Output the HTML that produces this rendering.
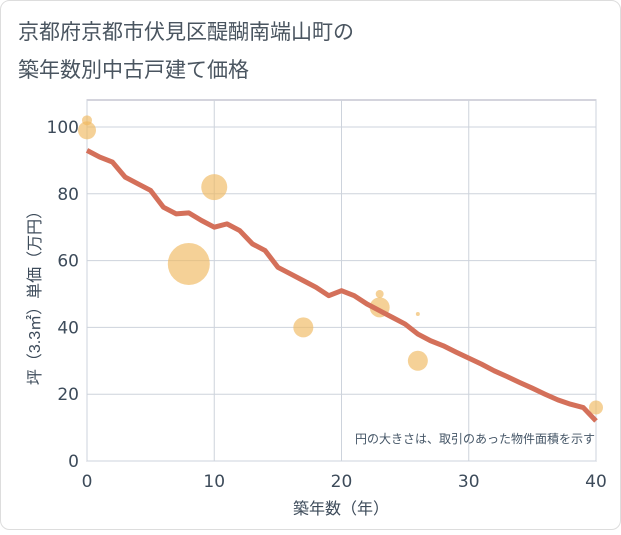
<!DOCTYPE html>
<html><head><meta charset="utf-8"><style>
body{margin:0;background:#fff;}
#wrap{width:621px;height:530px;position:relative;font-family:"Liberation Sans","Noto Sans CJK JP",sans-serif;}
</style></head><body>
<div id="wrap">
<svg id="chart" width="621" height="530" xmlns="http://www.w3.org/2000/svg">
<rect x="0.5" y="0.5" width="620" height="529" rx="9" fill="#fff" stroke="#ddd"/>
<text x="18" y="39" font-size="21" fill="#4a5560">京都府京都市伏見区醍醐南端山町の</text>
<text x="18" y="77" font-size="21" fill="#4a5560">築年数別中古戸建て価格</text>
<g id="grid"></g><g id="marks"></g>
<text x="595" y="443" font-size="12" fill="#445566" text-anchor="end">円の大きさは、取引のあった物件面積を示す</text>
<text x="341" y="514" font-size="16" fill="#3d4b5a" text-anchor="middle">築年数（年）</text>
<text transform="translate(40,294) rotate(-90)" font-size="16" fill="#3d4b5a" text-anchor="middle">坪（3.3㎡）単価（万円）</text>
</svg></div>
<script>
const xTicks=[0,10,20,30,40];
const yTicks=[0,20,40,60,80,100];
const lineX=[0,1,2,3,4,5,6,7,8,9,10,11,12,13,14,15,16,17,18,19,20,21,22,23,24,25,26,27,28,29,30,31,32,33,34,35,36,37,38,39,40];
const lineY=[93,91,89.5,85,83,81,76,74,74.3,72,70,71,69,65,63,58,56,54,52,49.5,51,49.5,47,45,43,41,38,36,34.5,32.6,30.8,29,27,25.3,23.5,21.8,20,18.3,17,16,12];
const bubX=[0,0,10,8,17,23,23,26,26,40];
const bubY=[102,99,82,59,40,50,46,44,30,16];
const bubSize=[25,81,169,441,100,16,100,4,100,49];
const NS="http://www.w3.org/2000/svg";
const L=87,R=596,T=100,B=461;
const xs=v=>L+(v/40)*(R-L);
const ys=v=>B-(v/100)*(B-127);
const grid=document.getElementById('grid'),marks=document.getElementById('marks');
function mk(tag,attrs,parent){const e=document.createElementNS(NS,tag);for(const k in attrs)e.setAttribute(k,attrs[k]);parent.appendChild(e);return e;}
const bg=mk('rect',{x:L,y:T,width:R-L,height:B-T,fill:'#fff',stroke:'#aab'},grid);


xTicks.forEach(t=>{
 const l=mk('line',{x1:xs(t),x2:xs(t),y1:T,y2:B,stroke:'#cdd3dc'},grid);
 
 
 const tx=mk('text',{x:xs(t),y:B+26,'font-size':17,fill:'#3d4b5a','text-anchor':'middle','font-family':'DejaVu Sans, sans-serif'},grid);tx.textContent=t;
 
 
});
yTicks.forEach(t=>{
 const l=mk('line',{x1:L,x2:R,y1:ys(t),y2:ys(t),stroke:'#cdd3dc'},grid);
 
 
 const tx=mk('text',{x:L-8,y:ys(t)+6,'font-size':17,fill:'#3d4b5a','text-anchor':'end','font-family':'DejaVu Sans, sans-serif'},grid);tx.textContent=t;
 
 
});
bubX.forEach((v,i)=>{
 const c=mk('circle',{cx:xs(v),cy:ys(bubY[i]),r:Math.sqrt(bubSize[i]),fill:'#f0b860','fill-opacity':0.65},marks);
 
 
});
const p=mk('polyline',{points:lineX.map((v,i)=>xs(v)+','+ys(lineY[i])).join(' '),fill:'none',stroke:'#d4705a','stroke-width':5,'stroke-linejoin':'round'},marks);


</script>
</body></html>
